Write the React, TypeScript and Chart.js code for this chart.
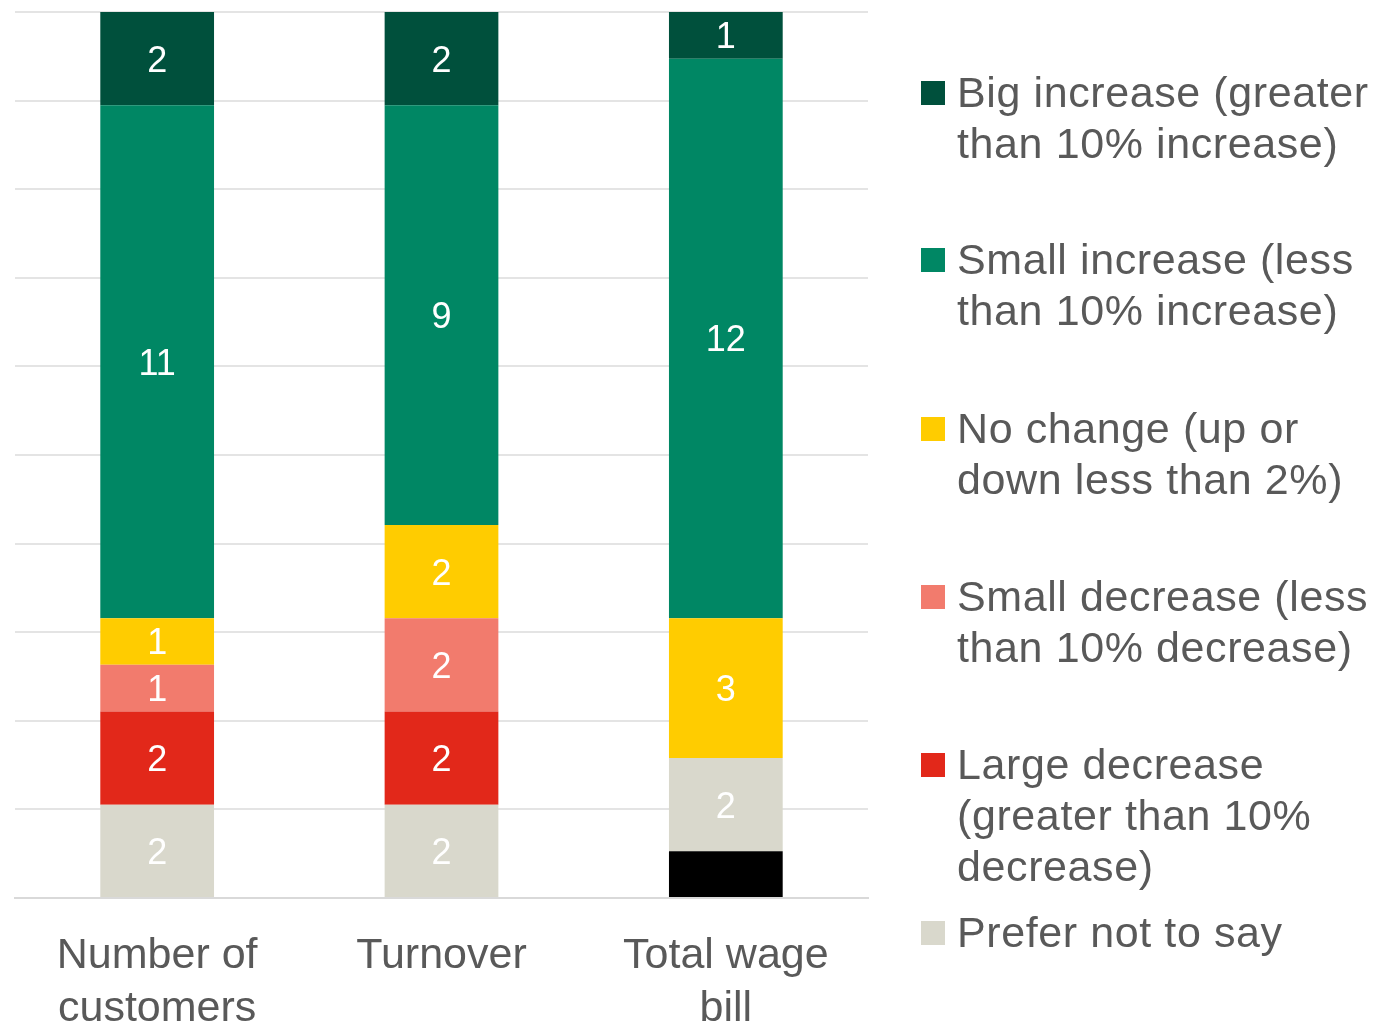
import React, { useEffect, useRef } from "react";
import { Chart, registerables } from "chart.js";

Chart.register(...registerables);

// ---- Data ----
const categories: string[][] = [["Number of", "customers"], ["Turnover"], ["Total wage", "bill"]];

const unlabelled = [0, 0, 1];
const preferNotToSay = [2, 2, 2];
const largeDecrease = [2, 2, 0];
const smallDecrease = [1, 2, 0];
const noChange = [1, 2, 3];
const smallIncrease = [11, 9, 12];
const bigIncrease = [2, 2, 1];

const seriesLabels = [
  "Not stated",
  "Prefer not to say",
  "Large decrease (greater than 10% decrease)",
  "Small decrease (less than 10% decrease)",
  "No change (up or down less than 2%)",
  "Small increase (less than 10% increase)",
  "Big increase (greater than 10% increase)",
];
const seriesColors = ["#000000", "#D9D8CC", "#E2281A", "#F27B6D", "#FFCC00", "#008764", "#00503C"];
const seriesValues = [unlabelled, preferNotToSay, largeDecrease, smallDecrease, noChange, smallIncrease, bigIncrease];

// legend (top to bottom), as wrapped in the reference
const legendOrder = [6, 5, 4, 3, 2, 1];
const legendLines: string[][] = [
  ["Big increase (greater", "than 10% increase)"],
  ["Small increase (less", "than 10% increase)"],
  ["No change (up or", "down less than 2%)"],
  ["Small decrease (less", "than 10% decrease)"],
  ["Large decrease", "(greater than 10%", "decrease)"],
  ["Prefer not to say"],
];

const FONT = "'Liberation Sans', Arial, sans-serif";
const TEXT_COLOR = "#595959";
const legendBaselines = [107, 274, 443, 611, 779, 947];

const barLabels = {
  id: "barLabels",
  afterDatasetsDraw(chart: any) {
    const ctx = chart.ctx;
    ctx.save();
    ctx.font = `36px ${FONT}`;
    ctx.fillStyle = "#ffffff";
    ctx.textAlign = "center";
    ctx.textBaseline = "middle";
    chart.data.datasets.forEach((ds: any, di: number) => {
      if (di === 0) return;
      const meta = chart.getDatasetMeta(di);
      meta.data.forEach((bar: any, i: number) => {
        const v = ds.data[i];
        if (!v) return;
        const y = (bar.y + bar.base) / 2;
        ctx.fillText(String(v), bar.x, y + 3);
      });
    });
    ctx.restore();
  },
};

export default function App() {
  const canvasRef = useRef<HTMLCanvasElement | null>(null);

  useEffect(() => {
    document.body.style.margin = "0";
    const canvas = canvasRef.current!;
    const totals = categories.map((_, i) => seriesValues.reduce((s, arr) => s + arr[i], 0));
    const maxTotal = Math.max(...totals);
    const chart = new Chart(canvas, {
      type: "bar",
      data: {
        labels: categories as any,
        datasets: seriesValues.map((vals, k) => ({
          label: seriesLabels[k],
          data: vals,
          backgroundColor: seriesColors[k],
          borderWidth: 0,
          barPercentage: 0.4,
          categoryPercentage: 1,
        })),
      },
      options: {
        animation: false,
        responsive: false,
        devicePixelRatio: 1,
        layout: { padding: { left: 15, right: 510, top: 12, bottom: 0 } },
        plugins: {
          legend: { display: false },
          tooltip: { enabled: false },
        },
        scales: {
          x: {
            stacked: true,
            grid: { display: false, drawTicks: false },
            border: { display: true, color: "#D9D9D9", width: 2 },
            ticks: {
              color: TEXT_COLOR,
              font: { family: FONT, size: 43, lineHeight: 1.22 },
              padding: 32,
              maxRotation: 0,
              autoSkip: false,
            },
            afterFit: (scale: any) => {
              scale.height = 127;
            },
          },
          y: {
            stacked: true,
            min: 0,
            max: maxTotal,
            border: { display: false },
            grid: { color: "#E4E4E4", lineWidth: 2, drawTicks: false },
            ticks: { display: false },
            afterBuildTicks: (scale: any) => {
              const ticks = [];
              for (let i = 0; i <= 10; i++) ticks.push({ value: (maxTotal * i) / 10 });
              scale.ticks = ticks;
            },
          },
        },
      },
      plugins: [barLabels],
    });
    return () => chart.destroy();
  }, []);

  return (
    <div style={{ position: "fixed", left: 0, top: 0, width: 1378, height: 1025, overflow: "hidden", background: "#fff" }}>
      <canvas ref={canvasRef} width={1378} height={1025} style={{ position: "absolute", left: 0, top: 0 }} />
      {legendOrder.map((si, j) => (
        <React.Fragment key={si}>
          <div
            style={{
              position: "absolute",
              left: 921,
              top: legendBaselines[j] - 26,
              width: 24,
              height: 24,
              background: seriesColors[si],
            }}
          />
          <div
            style={{
              position: "absolute",
              left: 957,
              top: legendBaselines[j] - 40,
              fontFamily: FONT,
              fontSize: 43,
              lineHeight: "51px",
              color: TEXT_COLOR,
              whiteSpace: "nowrap",
              letterSpacing: "0.6px",
            }}
          >
            {legendLines[j].map((line, li) => (
              <div key={li}>{line}</div>
            ))}
          </div>
        </React.Fragment>
      ))}
    </div>
  );
}
